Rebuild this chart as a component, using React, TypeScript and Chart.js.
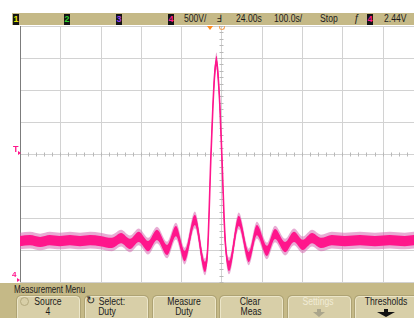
import React, { useEffect, useRef } from "react";
import { Chart, registerables } from "chart.js";

Chart.register(...registerables);

// Horizontal position in divisions (10 div span, 100 us/div) and amplitude in divisions (500 mV/div)
const timeDiv = [
  0, 0.25, 0.5, 0.74, 0.99, 1.24, 1.49, 1.74, 1.99,
  2.28, 2.51, 2.73, 2.95, 3.18, 3.4, 3.65, 3.87, 4.09, 4.34, 4.59,
  4.66, 4.74, 4.79, 4.84, 4.88, 4.91, 4.96, 5.01, 5.09, 5.19,
  5.43, 5.68, 5.88, 6.13, 6.33, 6.58, 6.8, 7.02, 7.25, 7.47,
  7.74, 8.06, 8.44, 8.81, 9.18, 9.55, 9.78,
];
const voltDiv = [
  -2.72, -2.69, -2.75, -2.69, -2.72, -2.69, -2.72, -2.69, -2.72,
  -2.78, -2.63, -2.81, -2.59, -2.88, -2.53, -3.0, -2.41, -3.19, -2.06, -3.53,
  -2.94, -0.03, 1.53, 2.63, 2.91, 2.56, 1.53, -0.03, -2.63, -3.5,
  -2.09, -3.22, -2.38, -3.03, -2.5, -2.91, -2.59, -2.84, -2.63, -2.78,
  -2.69, -2.72, -2.69, -2.72, -2.69, -2.72, -2.69,
];
const coreNoise = 0.16;
const fringeNoise = 0.26;
const xGrid = [0, 1, 2, 3, 4, 5, 6, 7, 8, 9];
const yGrid = [-4, -3, -2, -1, 0, 1, 2, 3, 4];
const xMax = 9.78;

const channelNums = ["1", "2", "3", "4"];
const channelColors = ["#e6e600", "#2ccf2c", "#9a3cf0", "#ff1a8c"];
const statusLabels = ["500V/", "24.00s", "100.0s/", "Stop", "2.44V"];
const menuTitle = "Measurement Menu";
const buttonTop = ["Source", "Select:", "Measure", "Clear", "Settings", "Thresholds"];
const buttonBottom = ["4", "Duty", "Duty", "Meas", "", ""];

const PINK = "#ff168c";
const KHAKI = "#c5b987";

const gridPlugin = {
  id: "scopeGrid",
  beforeDatasetsDraw(chart: any) {
    const { ctx, chartArea, scales } = chart;
    const { top, bottom, left, right } = chartArea;
    const x = scales.x;
    const y = scales.y;
    ctx.save();
    ctx.lineWidth = 1;
    ctx.strokeStyle = "#d2d2d2";
    ctx.beginPath();
    for (const v of xGrid) {
      const px = Math.round(x.getPixelForValue(v)) + 0.5;
      ctx.moveTo(px, top);
      ctx.lineTo(px, bottom);
    }
    for (const v of yGrid) {
      const py = Math.round(y.getPixelForValue(v)) + 0.5;
      ctx.moveTo(left, py);
      ctx.lineTo(right, py);
    }
    ctx.stroke();
    // minor ticks on center axes
    const cx = Math.round(x.getPixelForValue(5)) + 0.5;
    const cy = Math.round(y.getPixelForValue(0)) + 0.5;
    ctx.strokeStyle = "#b8b8b8";
    ctx.beginPath();
    for (let i = 0; i <= 50; i++) {
      const v = i * 0.2;
      if (v > xMax) break;
      const px = Math.round(x.getPixelForValue(v)) + 0.5;
      ctx.moveTo(px, cy - 2);
      ctx.lineTo(px, cy + 2);
    }
    for (let i = -20; i <= 20; i++) {
      const py = Math.round(y.getPixelForValue(i * 0.2)) + 0.5;
      ctx.moveTo(cx - 2, py);
      ctx.lineTo(cx + 2, py);
    }
    ctx.stroke();
    // left border
    ctx.strokeStyle = "#7c7c7c";
    ctx.beginPath();
    const lx = Math.round(x.getPixelForValue(0)) + 0.5;
    ctx.moveTo(lx, top);
    ctx.lineTo(lx, bottom);
    ctx.stroke();
    ctx.restore();
  },
};

const pts = (off: number) => timeDiv.map((t, i) => ({ x: t, y: voltDiv[i] + off }));

const Txt = ({ x, y, s, size = 10, color = "#1c1c1c", sx = 0.86, weight = 400 }: any) => (
  <span
    style={{
      position: "absolute",
      left: x,
      top: y,
      fontSize: size,
      lineHeight: `${size + 2}px`,
      color,
      whiteSpace: "nowrap",
      transform: `scaleX(${sx})`,
      transformOrigin: "0 0",
      fontWeight: weight,
    }}
  >
    {s}
  </span>
);

const CTxt = ({ cx, y, s, size = 10, color = "#1c1c1c", sx = 0.86 }: any) => (
  <span
    style={{
      position: "absolute",
      left: cx - 50,
      width: 100,
      top: y,
      fontSize: size,
      lineHeight: "10px",
      color,
      textAlign: "center",
      whiteSpace: "nowrap",
      transform: `scaleX(${sx})`,
      transformOrigin: "50% 0",
    }}
  >
    {s}
  </span>
);

const ChBox = ({ x, n, color }: any) => (
  <div
    style={{
      position: "absolute",
      left: x,
      top: 14,
      width: 6,
      height: 11,
      background: "#141414",
      color,
      fontSize: 9,
      fontWeight: 700,
      lineHeight: "11px",
      textAlign: "center",
      overflow: "hidden",
    }}
  >
    {n}
  </div>
);

const Button = ({ x }: any) => (
  <div
    style={{
      position: "absolute",
      left: x,
      top: 296,
      width: 61,
      height: 26,
      borderRadius: 4,
      background: "#d8cfa8",
      border: "1px solid #ece6c9",
      boxShadow: "0 0 0 1px #aea374",
    }}
  />
);

const DownArrow = ({ cx, y, color, w }: any) => (
  <>
    <div style={{ position: "absolute", left: cx - 2, top: y, width: 4, height: 3, background: color }} />
    <div
      style={{
        position: "absolute",
        left: cx - w / 2,
        top: y + 3,
        width: 0,
        height: 0,
        borderLeft: `${w / 2}px solid transparent`,
        borderRight: `${w / 2}px solid transparent`,
        borderTop: `5px solid ${color}`,
      }}
    />
  </>
);

export default function App() {
  const ref = useRef<HTMLCanvasElement | null>(null);

  useEffect(() => {
    if (!ref.current) return;
    const chart = new Chart(ref.current, {
      type: "line",
      data: {
        datasets: [
          {
            data: pts(0),
            borderColor: PINK,
            borderWidth: 1.6,
            pointRadius: 0,
            fill: false,
            cubicInterpolationMode: "monotone",
          },
          {
            data: pts(coreNoise),
            borderColor: "rgba(0,0,0,0)",
            borderWidth: 1,
            pointRadius: 0,
            fill: false,
            cubicInterpolationMode: "monotone",
          },
          {
            data: pts(-coreNoise),
            borderColor: "rgba(0,0,0,0)",
            borderWidth: 1,
            pointRadius: 0,
            fill: "-1",
            backgroundColor: PINK,
            cubicInterpolationMode: "monotone",
          },
          {
            data: pts(fringeNoise),
            borderColor: "rgba(0,0,0,0)",
            borderWidth: 1,
            pointRadius: 0,
            fill: false,
            cubicInterpolationMode: "monotone",
          },
          {
            data: pts(-fringeNoise),
            borderColor: "rgba(0,0,0,0)",
            borderWidth: 1,
            pointRadius: 0,
            fill: "-1",
            backgroundColor: "rgba(214,104,176,0.55)",
            cubicInterpolationMode: "monotone",
          },
        ],
      } as any,
      options: {
        animation: false,
        responsive: false,
        events: [],
        layout: { padding: { left: 20, top: 26, right: 0, bottom: 36 } },
        plugins: { legend: { display: false }, tooltip: { enabled: false } },
        scales: {
          x: { type: "linear", min: 0, max: xMax, display: false },
          y: { type: "linear", min: -4, max: 4, display: false },
        },
      } as any,
      plugins: [gridPlugin],
    });
    return () => chart.destroy();
  }, []);

  const chX = [13, 64, 116, 168];

  return (
    <div
      style={{
        position: "fixed",
        left: 0,
        top: 0,
        width: 414,
        height: 318,
        background: "#ffffff",
        overflow: "hidden",
        fontFamily: '"Liberation Sans", Arial, sans-serif',
      }}
    >
      <canvas ref={ref} width={414} height={318} style={{ position: "absolute", left: 0, top: 0, width: 414, height: 318 }} />

      {/* status bar */}
      <div style={{ position: "absolute", left: 12, top: 13, width: 402, height: 12, background: KHAKI }} />
      {channelNums.map((n, i) => (
        <ChBox key={n} x={chX[i]} n={n} color={channelColors[i]} />
      ))}
      <Txt x={184} y={13} s={statusLabels[0]} />
      <Txt x={217} y={13} s={"Ⅎ"} sx={1} />
      <Txt x={236} y={13} s={statusLabels[1]} />
      <Txt x={274} y={13} s={statusLabels[2]} />
      <Txt x={320} y={13} s={statusLabels[3]} />
      <Txt x={354} y={13} s={"ƒ"} sx={1} />
      <ChBox x={367} n={"4"} color={channelColors[3]} />
      <Txt x={384} y={13} s={statusLabels[4]} />

      {/* trigger position markers */}
      <div
        style={{
          position: "absolute",
          left: 207,
          top: 26,
          width: 0,
          height: 0,
          borderLeft: "3px solid transparent",
          borderRight: "3px solid transparent",
          borderTop: "4px solid #ff8a1c",
        }}
      />
      <div
        style={{
          position: "absolute",
          left: 219,
          top: 26,
          width: 4,
          height: 3,
          border: "1px solid #f2a35a",
          borderTop: "none",
          borderRadius: "0 0 3px 3px",
        }}
      />

      {/* left markers */}
      <Txt x={13} y={144} s={"T"} size={9} color={PINK} sx={1} weight={700} />
      <div
        style={{
          position: "absolute",
          left: 18,
          top: 151,
          width: 0,
          height: 0,
          borderTop: "2px solid transparent",
          borderBottom: "2px solid transparent",
          borderLeft: `3px solid ${PINK}`,
        }}
      />
      <Txt x={12} y={270} s={"4"} size={8} color={PINK} sx={1} weight={700} />
      <div
        style={{
          position: "absolute",
          left: 17,
          top: 278,
          width: 0,
          height: 0,
          borderTop: "2px solid transparent",
          borderBottom: "2px solid transparent",
          borderLeft: `3px solid ${PINK}`,
        }}
      />

      {/* menu */}
      <div style={{ position: "absolute", left: 0, top: 283, width: 414, height: 35, background: KHAKI }} />
      <Txt x={14} y={284} s={menuTitle} sx={0.8} />
      {[17, 85, 153, 220, 288, 355].map((x) => (
        <Button key={x} x={x} />
      ))}
      {/* button 1 */}
      <div
        style={{
          position: "absolute",
          left: 20,
          top: 297,
          width: 7,
          height: 7,
          borderRadius: "50%",
          border: "1px solid #b3a97e",
        }}
      />
      <CTxt cx={48} y={297} s={buttonTop[0]} />
      <CTxt cx={48} y={307} s={buttonBottom[0]} />
      {/* button 2 */}
      <Txt x={86} y={294} s={"↻"} size={11} sx={1} color="#222" />
      <CTxt cx={112} y={297} s={buttonTop[1]} />
      <CTxt cx={107} y={307} s={buttonBottom[1]} />
      {/* button 3 */}
      <CTxt cx={184} y={297} s={buttonTop[2]} />
      <CTxt cx={184} y={307} s={buttonBottom[2]} />
      {/* button 4 */}
      <CTxt cx={250} y={297} s={buttonTop[3]} />
      <CTxt cx={251} y={307} s={buttonBottom[3]} />
      {/* button 5 (disabled) */}
      <CTxt cx={318} y={297} s={buttonTop[4]} color="#f1ecd6" />
      <DownArrow cx={319} y={309} color="#aaa58c" w={12} />
      {/* button 6 */}
      <CTxt cx={386} y={297} s={buttonTop[5]} />
      <DownArrow cx={386} y={309} color="#111" w={18} />
    </div>
  );
}
